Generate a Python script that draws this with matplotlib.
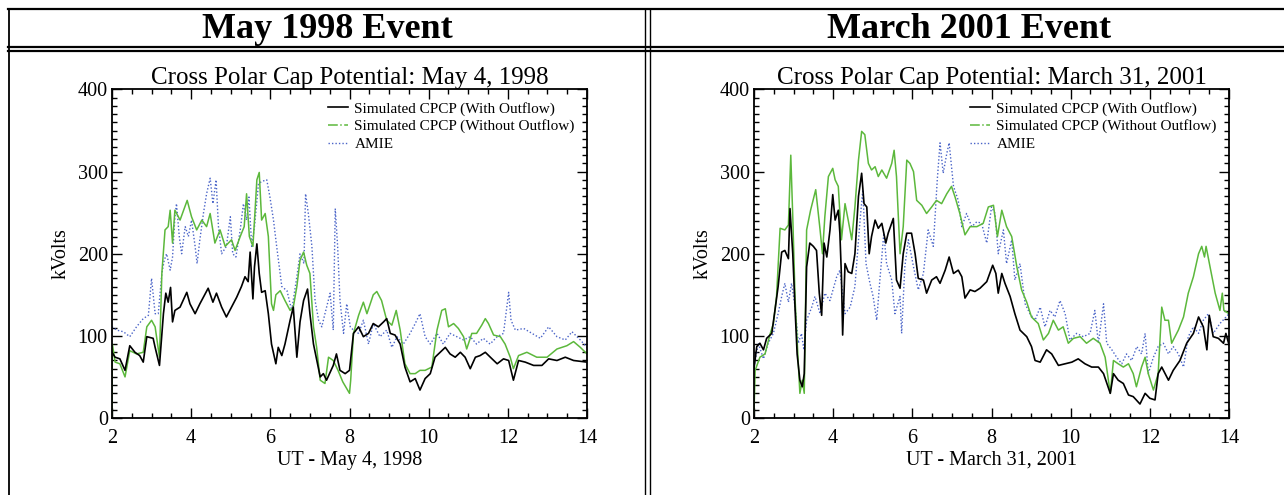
"""
Cross polar cap potential: simulated (with / without outflow) vs AMIE, two events.
"""
import numpy as np
import matplotlib.pyplot as plt
from matplotlib.lines import Line2D
from matplotlib.ticker import MultipleLocator

plt.rcParams["font.family"] = ["Liberation Serif", "DejaVu Serif"]

# --- May 4, 1998 (UT hour, kV) ---
may_with = [
    (2.0, 80), (2.08, 74), (2.2, 72), (2.33, 58), (2.45, 88), (2.58, 80), (2.7, 76), (2.79, 68),
    (2.88, 99), (3.04, 97), (3.09, 86), (3.2, 64), (3.3, 127), (3.36, 152), (3.42, 141), (3.48, 159),
    (3.53, 117), (3.59, 131), (3.72, 135), (3.89, 153), (3.97, 139), (4.1, 127), (4.22, 139), (4.43, 158),
    (4.55, 141), (4.64, 152), (4.77, 135), (4.89, 123), (5.02, 135), (5.15, 147), (5.27, 160), (5.36, 172),
    (5.44, 166), (5.49, 202), (5.56, 145), (5.6, 184), (5.66, 212), (5.72, 176), (5.78, 153), (5.87, 155),
    (5.95, 127), (6.03, 90), (6.14, 66), (6.2, 86), (6.29, 76), (6.37, 90), (6.5, 119), (6.58, 135),
    (6.67, 74), (6.75, 117), (6.84, 143), (6.94, 157), (7.0, 127), (7.09, 90), (7.26, 50), (7.34, 54),
    (7.42, 46), (7.59, 64), (7.67, 78), (7.76, 58), (7.89, 54), (8.0, 58), (8.1, 103), (8.23, 111),
    (8.35, 99), (8.48, 103), (8.6, 115), (8.73, 111), (8.86, 117), (8.94, 121), (9.03, 103), (9.15, 101),
    (9.28, 90), (9.4, 62), (9.53, 44), (9.66, 48), (9.78, 34), (9.91, 48), (10.04, 54), (10.16, 74),
    (10.29, 80), (10.42, 86), (10.54, 78), (10.67, 74), (10.8, 80), (10.92, 74), (11.05, 60), (11.18, 74),
    (11.3, 76), (11.43, 80), (11.6, 72), (11.73, 66), (11.89, 72), (12.02, 70), (12.14, 46), (12.27, 70),
    (12.44, 68), (12.65, 64), (12.86, 64), (13.03, 72), (13.24, 70), (13.45, 74), (13.66, 70), (14.0, 68),
]
may_without = [
    (2.0, 0), (2.01, 90), (2.08, 68), (2.2, 66), (2.33, 50), (2.45, 82), (2.62, 78), (2.79, 80),
    (2.88, 111), (3.0, 119), (3.09, 111), (3.2, 74), (3.26, 176), (3.34, 229), (3.42, 233), (3.47, 253),
    (3.53, 213), (3.59, 253), (3.72, 241), (3.9, 265), (4.01, 245), (4.14, 229), (4.27, 241), (4.39, 233),
    (4.48, 249), (4.6, 213), (4.73, 229), (4.86, 209), (5.02, 217), (5.11, 204), (5.24, 221), (5.34, 233),
    (5.4, 273), (5.47, 221), (5.56, 209), (5.61, 249), (5.66, 290), (5.72, 299), (5.78, 241), (5.87, 249),
    (5.95, 221), (6.03, 139), (6.08, 131), (6.14, 150), (6.25, 155), (6.37, 143), (6.5, 131), (6.58, 135),
    (6.67, 160), (6.75, 192), (6.84, 202), (6.92, 186), (7.0, 176), (7.09, 111), (7.17, 86), (7.26, 46),
    (7.38, 42), (7.47, 74), (7.59, 70), (7.71, 58), (7.83, 44), (8.0, 30), (8.03, 46), (8.1, 103),
    (8.23, 125), (8.35, 141), (8.44, 127), (8.6, 150), (8.69, 154), (8.81, 143), (8.94, 119), (9.07, 113),
    (9.18, 131), (9.28, 107), (9.4, 66), (9.53, 54), (9.66, 54), (9.78, 58), (9.91, 58), (10.08, 62),
    (10.21, 107), (10.33, 131), (10.42, 133), (10.5, 111), (10.63, 115), (10.75, 109), (10.88, 99), (10.96, 84),
    (11.09, 103), (11.21, 103), (11.34, 113), (11.43, 121), (11.51, 115), (11.64, 101), (11.81, 99), (11.93, 90),
    (12.06, 74), (12.14, 60), (12.27, 76), (12.48, 80), (12.73, 74), (12.99, 74), (13.24, 84), (13.49, 88),
    (13.66, 93), (13.83, 86), (14.0, 78),
]
may_amie = [
    (2.0, 111), (2.12, 107), (2.29, 105), (2.45, 99), (2.62, 111), (2.79, 121), (2.92, 125), (3.0, 170),
    (3.09, 127), (3.17, 127), (3.26, 176), (3.32, 192), (3.38, 200), (3.47, 180), (3.53, 196), (3.59, 245),
    (3.63, 261), (3.7, 221), (3.76, 200), (3.85, 233), (3.93, 221), (4.01, 241), (4.1, 209), (4.15, 188),
    (4.22, 217), (4.31, 249), (4.39, 273), (4.48, 292), (4.55, 261), (4.63, 290), (4.69, 233), (4.77, 200),
    (4.89, 209), (4.99, 245), (5.05, 200), (5.13, 196), (5.24, 229), (5.32, 261), (5.4, 241), (5.46, 269),
    (5.53, 209), (5.6, 233), (5.7, 285), (5.78, 288), (5.91, 290), (5.99, 269), (6.08, 241), (6.16, 209),
    (6.29, 160), (6.42, 155), (6.54, 131), (6.67, 172), (6.75, 200), (6.85, 188), (6.89, 273), (6.96, 249),
    (7.05, 209), (7.13, 143), (7.22, 119), (7.3, 111), (7.38, 127), (7.51, 152), (7.59, 107), (7.64, 255),
    (7.7, 209), (7.76, 143), (7.85, 103), (7.93, 139), (8.02, 111), (8.1, 107), (8.23, 103), (8.35, 119),
    (8.48, 90), (8.6, 115), (8.77, 99), (8.94, 107), (9.07, 86), (9.2, 99), (9.36, 90), (9.53, 103),
    (9.66, 115), (9.78, 127), (9.91, 99), (10.04, 90), (10.21, 103), (10.37, 90), (10.54, 103), (10.71, 99),
    (10.88, 95), (11.05, 99), (11.21, 90), (11.38, 97), (11.55, 90), (11.73, 99), (11.89, 103), (12.02, 153),
    (12.08, 119), (12.19, 107), (12.4, 109), (12.61, 103), (12.82, 97), (13.03, 111), (13.24, 99), (13.45, 95),
    (13.62, 105), (13.83, 95), (14.0, 86),
]

# --- March 31, 2001 (UT hour, kV) ---
mar_with = [
    (2.0, 60), (2.07, 87), (2.15, 91), (2.24, 83), (2.32, 97), (2.45, 103), (2.53, 131), (2.61, 160),
    (2.7, 202), (2.78, 204), (2.87, 194), (2.91, 255), (2.98, 200), (3.04, 131), (3.09, 78), (3.16, 46),
    (3.22, 38), (3.27, 54), (3.33, 184), (3.41, 213), (3.5, 209), (3.58, 204), (3.65, 152), (3.71, 125),
    (3.77, 213), (3.84, 196), (3.92, 229), (3.99, 272), (4.05, 241), (4.13, 253), (4.17, 225), (4.21, 172),
    (4.24, 101), (4.3, 188), (4.38, 178), (4.47, 176), (4.55, 200), (4.64, 270), (4.72, 298), (4.78, 261),
    (4.85, 257), (4.91, 200), (4.97, 221), (5.06, 241), (5.14, 231), (5.23, 237), (5.33, 213), (5.39, 225),
    (5.52, 243), (5.6, 168), (5.69, 158), (5.77, 200), (5.86, 225), (5.98, 225), (6.07, 200), (6.15, 170),
    (6.28, 168), (6.36, 152), (6.49, 168), (6.61, 172), (6.7, 164), (6.83, 180), (6.93, 196), (7.04, 176),
    (7.16, 180), (7.25, 172), (7.33, 146), (7.46, 156), (7.58, 154), (7.71, 158), (7.88, 166), (8.03, 186),
    (8.11, 176), (8.17, 152), (8.26, 176), (8.34, 164), (8.47, 148), (8.59, 127), (8.72, 107), (8.89, 99),
    (9.01, 87), (9.1, 70), (9.23, 68), (9.39, 83), (9.52, 78), (9.69, 64), (9.86, 66), (10.03, 68),
    (10.19, 72), (10.36, 66), (10.53, 62), (10.7, 62), (10.83, 54), (11.0, 30), (11.08, 54), (11.2, 46),
    (11.33, 42), (11.46, 28), (11.58, 26), (11.75, 17), (11.88, 30), (12.0, 24), (12.13, 22), (12.21, 54),
    (12.3, 62), (12.47, 46), (12.59, 58), (12.76, 70), (12.93, 91), (13.1, 103), (13.23, 123), (13.35, 111),
    (13.44, 83), (13.5, 125), (13.6, 99), (13.73, 97), (13.86, 91), (13.92, 103), (14.0, 89),
]
mar_without = [
    (2.0, 5), (2.03, 58), (2.15, 74), (2.28, 78), (2.4, 101), (2.49, 115), (2.57, 148), (2.66, 231),
    (2.78, 229), (2.87, 235), (2.93, 320), (2.98, 245), (3.04, 143), (3.12, 66), (3.16, 30), (3.22, 46),
    (3.27, 30), (3.33, 229), (3.43, 253), (3.56, 278), (3.67, 229), (3.73, 200), (3.79, 245), (3.88, 294),
    (3.99, 304), (4.05, 290), (4.13, 282), (4.21, 217), (4.3, 261), (4.38, 241), (4.47, 217), (4.55, 257),
    (4.64, 314), (4.72, 349), (4.8, 345), (4.89, 310), (4.97, 302), (5.06, 306), (5.14, 294), (5.23, 302),
    (5.35, 292), (5.48, 310), (5.54, 326), (5.6, 294), (5.69, 200), (5.77, 233), (5.86, 314), (5.94, 310),
    (6.03, 300), (6.11, 265), (6.24, 259), (6.36, 249), (6.49, 257), (6.61, 265), (6.74, 261), (6.87, 273),
    (6.99, 282), (7.08, 269), (7.2, 249), (7.33, 223), (7.46, 233), (7.63, 233), (7.79, 237), (7.92, 257),
    (8.05, 259), (8.15, 221), (8.26, 253), (8.38, 233), (8.51, 221), (8.64, 184), (8.76, 156), (8.89, 141),
    (9.01, 123), (9.18, 115), (9.31, 95), (9.44, 103), (9.56, 119), (9.69, 107), (9.81, 111), (9.94, 91),
    (10.07, 97), (10.24, 99), (10.4, 91), (10.57, 97), (10.74, 91), (10.87, 74), (11.0, 30), (11.08, 70),
    (11.2, 66), (11.33, 62), (11.46, 66), (11.58, 54), (11.66, 38), (11.79, 62), (11.88, 74), (11.96, 54),
    (12.09, 34), (12.21, 54), (12.3, 135), (12.38, 119), (12.47, 119), (12.55, 91), (12.72, 107), (12.85, 123),
    (12.97, 152), (13.1, 172), (13.23, 200), (13.31, 209), (13.38, 196), (13.42, 209), (13.52, 184), (13.65, 152),
    (13.77, 131), (13.83, 152), (13.87, 131), (14.0, 127),
]
mar_amie = [
    (2.0, 62), (2.11, 91), (2.24, 72), (2.36, 91), (2.49, 103), (2.61, 127), (2.7, 148), (2.78, 164),
    (2.87, 141), (2.95, 164), (3.04, 135), (3.12, 91), (3.2, 103), (3.26, 83), (3.33, 119), (3.46, 135),
    (3.54, 148), (3.67, 127), (3.79, 152), (3.92, 143), (4.09, 172), (4.17, 180), (4.3, 127), (4.43, 135),
    (4.55, 160), (4.68, 241), (4.75, 278), (4.83, 188), (4.93, 164), (5.01, 148), (5.1, 119), (5.18, 168),
    (5.28, 225), (5.35, 188), (5.48, 168), (5.56, 127), (5.69, 148), (5.73, 103), (5.81, 184), (5.9, 217),
    (6.03, 184), (6.15, 156), (6.28, 176), (6.4, 229), (6.53, 209), (6.63, 290), (6.7, 335), (6.78, 298),
    (6.87, 322), (6.93, 335), (7.04, 282), (7.16, 265), (7.25, 233), (7.37, 249), (7.5, 233), (7.63, 239),
    (7.75, 237), (7.88, 213), (8.0, 257), (8.09, 249), (8.17, 200), (8.3, 229), (8.38, 188), (8.51, 217),
    (8.59, 168), (8.72, 188), (8.85, 139), (8.97, 127), (9.1, 119), (9.23, 135), (9.35, 111), (9.48, 131),
    (9.6, 123), (9.73, 143), (9.86, 127), (9.98, 95), (10.15, 103), (10.32, 99), (10.49, 103), (10.61, 131),
    (10.7, 91), (10.83, 139), (10.91, 91), (11.04, 83), (11.16, 74), (11.29, 66), (11.41, 78), (11.54, 70),
    (11.67, 87), (11.79, 78), (11.88, 103), (11.96, 54), (12.09, 74), (12.21, 87), (12.34, 91), (12.47, 78),
    (12.59, 87), (12.72, 78), (12.85, 62), (12.97, 99), (13.1, 111), (13.23, 103), (13.35, 119), (13.48, 127),
    (13.6, 103), (13.77, 115), (14.0, 127),
]

panels = [
    ("Cross Polar Cap Potential: May 4, 1998", "UT - May 4, 1998", may_with, may_without, may_amie),
    ("Cross Polar Cap Potential: March 31, 2001", "UT - March 31, 2001", mar_with, mar_without, mar_amie),
]

C_WITH = "black"
C_WITHOUT = "#5cb83c"
C_AMIE = "#4a64c8"

fig = plt.figure(figsize=(12.84, 4.95), dpi=100)

ax_pos = [[0.0872, 0.1556, 0.370, 0.6636], [0.5872, 0.1556, 0.370, 0.6636]]

for pos, (title, xlabel, s_with, s_without, s_amie) in zip(ax_pos, panels):
    ax = fig.add_axes(pos)
    t, v = np.array(s_amie).T
    ax.plot(t, v, color=C_AMIE, linestyle=(0, (1, 1.5)), linewidth=1.0)
    t, v = np.array(s_without).T
    ax.plot(t, v, color=C_WITHOUT, linewidth=1.1)
    t, v = np.array(s_with).T
    ax.plot(t, v, color=C_WITH, linewidth=1.2)

    ax.set_xlim(2, 14)
    ax.set_ylim(0, 400)
    ax.xaxis.set_major_locator(MultipleLocator(2))
    ax.xaxis.set_minor_locator(MultipleLocator(0.5))
    ax.yaxis.set_major_locator(MultipleLocator(100))
    ax.yaxis.set_minor_locator(MultipleLocator(10))
    ax.tick_params(which="both", direction="in", top=True, right=True, labelsize=14.5, width=1)
    ax.tick_params(which="major", length=7)
    ax.tick_params(which="minor", length=3.5)
    ax.tick_params(axis="x", which="major", pad=8)
    ax.tick_params(axis="y", which="major", pad=3)
    for sp in ax.spines.values():
        sp.set_linewidth(1.3)

    ax.set_title(title, fontsize=18, pad=4)
    ax.set_xlabel(xlabel, fontsize=14.5, labelpad=2)
    ax.set_ylabel("kVolts", fontsize=14.5, labelpad=5)

    handles = [
        Line2D([], [], color=C_WITH, linewidth=1.2),
        Line2D([], [], color=C_WITHOUT, linestyle="-.", linewidth=1.1),
        Line2D([], [], color=C_AMIE, linestyle=(0, (1, 1.5)), linewidth=1.0),
    ]
    labels = ["Simulated CPCP (With Outflow)", "Simulated CPCP (Without Outflow)", "AMIE"]
    ax.legend(handles, labels, loc="upper right", frameon=False, fontsize=11,
              handlelength=1.3, handletextpad=0.4, labelspacing=0.25, borderaxespad=0.4)

# --- table frame around the two panels ---
def hline(y, x0=0.0, x1=1.0, lw=1.6):
    fig.add_artist(Line2D([x0, x1], [y, y], color="black", linewidth=lw, transform=fig.transFigure))

def vline(x, y0=0.0, y1=1.0, lw=1.3):
    fig.add_artist(Line2D([x, x], [y0, y1], color="black", linewidth=lw, transform=fig.transFigure))

top = 1 - 9 / 495
hline(top, 0.0065)
hline(1 - 47 / 495, 0.0065)
hline(1 - 51 / 495, 0.0065)
vline(0.0070, 0.0, top)
vline(645 / 1284, 0.0, top, lw=1.0)
vline(650 / 1284, 0.0, top, lw=1.0)

fig.text(327 / 1284, 1 - 30 / 495, "May 1998 Event", ha="center", va="center",
         fontsize=26, fontweight="bold")
fig.text(969 / 1284, 1 - 30 / 495, "March 2001 Event", ha="center", va="center",
         fontsize=26, fontweight="bold")

fig.savefig("out.png", dpi=100)
